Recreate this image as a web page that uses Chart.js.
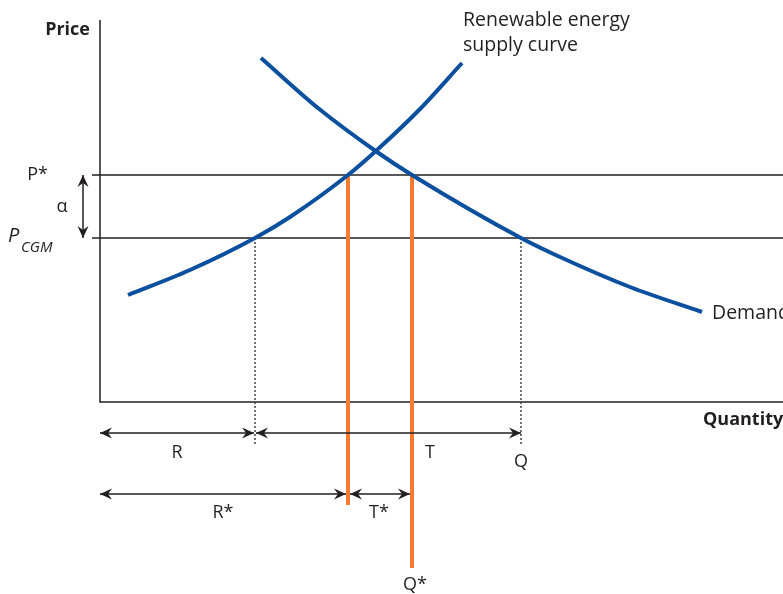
<!DOCTYPE html>
<html>
<head>
<meta charset="utf-8">
<script src="https://cdn.jsdelivr.net/npm/chart.js@4.4.1/dist/chart.umd.min.js"></script>
<style>
  html, body { margin: 0; background: #fff; }
  canvas { display: block; }
</style>
</head>
<body>
<canvas id="diagram" width="783" height="594"></canvas>
<script>
// diagram units: quantity along x, price along y, axis origin at (0, 0)
const pStar = 22.7
const pCgm = 16.4
const qR = 15.5
const qRStar = 24.8
const qQStar = 31.2
const qQ = 42.1

const supplyQ = [2.8, 9.0, 15.5, 19.0, 24.8, 27.7, 32.0, 36.2]
const supplyP = [10.7, 13.2, 16.4, 18.5, 22.7, 25.2, 29.3, 33.9]
const demandQ = [16.1, 21.8, 27.7, 31.2, 42.1, 46.0, 53.0, 60.2]
const demandP = [34.4, 29.4, 25.0, 22.7, 16.4, 14.5, 11.5, 9.0]

const ink = '#231f20'
const blue = '#0b4f9f'
const orange = '#f47b2f'

const toPoints = (xs, ys) => xs.map((x, i) => ({ x: x, y: ys[i] }))

// double-headed arrows and labels, placed through the chart scales
const annotations = {
  id: 'annotations',
  afterDatasetsDraw(chart) {
    const ctx = chart.ctx
    const xs = chart.scales.x
    const ys = chart.scales.y
    const px = v => xs.getPixelForValue(v)
    const py = v => ys.getPixelForValue(v)

    function head(x, y, ang) {
      ctx.save()
      ctx.translate(x, y)
      ctx.rotate(ang)
      ctx.beginPath()
      ctx.moveTo(0, 0)
      ctx.lineTo(-12, -5.5)
      ctx.lineTo(-8, 0)
      ctx.lineTo(-12, 5.5)
      ctx.closePath()
      ctx.fill()
      ctx.restore()
    }

    function arrow(q1, p1, q2, p2) {
      const x1 = px(q1), y1 = py(p1), x2 = px(q2), y2 = py(p2)
      const ang = Math.atan2(y2 - y1, x2 - x1)
      ctx.strokeStyle = ink
      ctx.fillStyle = ink
      ctx.lineWidth = 1.5
      ctx.beginPath()
      ctx.moveTo(x1, y1)
      ctx.lineTo(x2, y2)
      ctx.stroke()
      head(x2, y2, ang)
      head(x1, y1, ang + Math.PI)
    }

    arrow(0, -3.1, qR - 0.1, -3.1)
    arrow(qR + 0.1, -3.1, qQ, -3.1)
    arrow(0, -9.2, qRStar - 0.2, -9.2)
    arrow(qRStar + 0.2, -9.2, qQStar - 0.2, -9.2)
    arrow(-1.7, pStar, -1.7, pCgm)

    function label(text, q, p, opts) {
      const o = opts || {}
      ctx.font = o.font || '18px "Open Sans"'
      ctx.fillStyle = ink
      ctx.textAlign = o.align || 'center'
      ctx.textBaseline = o.baseline || 'middle'
      ctx.fillText(text, px(q), py(p))
    }

    const wide = '19.5px "Open Sans"'
    label('Price', -1.0, 37.2, { font: 'bold 18px "Open Sans"', align: 'right' })
    label('Quantity', 60.3, -1.8, { font: 'bold 18px "Open Sans"', align: 'left' })
    label('P*', -5.2, pStar, { align: 'right' })
    label('α', -3.8, 19.5)
    label('P', -9.2, 16.0, { font: 'italic 20px "Open Sans"', align: 'left', baseline: 'alphabetic' })
    label('CGM', -7.9, 15.0, { font: 'italic 15px "Open Sans"', align: 'left', baseline: 'alphabetic' })
    label('R', 7.7, -5.1)
    label('T', 33.0, -5.1)
    label('Q', qQ, -6.0)
    label('R*', 12.3, -11.1)
    label('T*', 27.9, -11.1)
    label('Q*', qQStar + 0.3, -18.3)
    label('Renewable energy', 36.3, 38.2, { font: wide, align: 'left' })
    label('supply curve', 36.3, 35.7, { font: wide, align: 'left' })
    label('Demand', 61.2, 8.9, { font: wide, align: 'left' })
  }
}

function line(points, color, width, dash) {
  return {
    data: points,
    showLine: true,
    borderColor: color,
    borderWidth: width,
    borderDash: dash || [],
    pointRadius: 0,
    fill: false
  }
}

const supply = line(toPoints(supplyQ, supplyP), blue, 4)
supply.cubicInterpolationMode = 'monotone'
const demand = line(toPoints(demandQ, demandP), blue, 4)
demand.cubicInterpolationMode = 'monotone'

new Chart(document.getElementById('diagram'), {
  type: 'scatter',
  data: {
    datasets: [
      supply,
      demand,
      line([{ x: qRStar, y: pStar }, { x: qRStar, y: -10.3 }], orange, 4),
      line([{ x: qQStar, y: pStar }, { x: qQStar, y: -16.6 }], orange, 4),
      line([{ x: qR, y: pCgm }, { x: qR, y: -4.3 }], '#444', 1.5, [2, 2]),
      line([{ x: qQ, y: pCgm }, { x: qQ, y: -4.3 }], '#444', 1.5, [2, 2]),
      line([{ x: -0.8, y: pStar }, { x: 70, y: pStar }], ink, 1.5),
      line([{ x: -0.8, y: pCgm }, { x: 70, y: pCgm }], ink, 1.5),
      line([{ x: 0, y: 38.2 }, { x: 0, y: 0 }, { x: 70, y: 0 }], ink, 1.5)
    ]
  },
  options: {
    responsive: false,
    animation: false,
    layout: { padding: 0 },
    plugins: { legend: { display: false }, tooltip: { enabled: false } },
    scales: {
      x: { type: 'linear', display: false, min: -10, max: 68.3 },
      y: { type: 'linear', display: false, min: -19.2, max: 40.2 }
    }
  },
  plugins: [annotations]
})
</script>
</body>
</html>
